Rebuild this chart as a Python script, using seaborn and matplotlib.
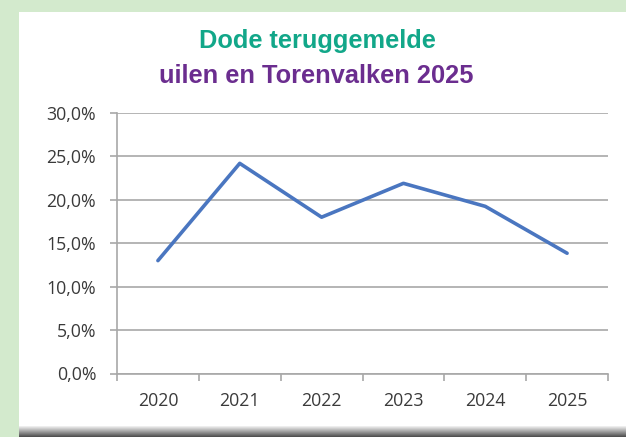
import numpy as np
import pandas as pd
import seaborn as sns
import matplotlib.pyplot as plt
from matplotlib.patches import Rectangle
from matplotlib.ticker import FuncFormatter, FixedLocator

years = ["2020", "2021", "2022", "2023", "2024", "2025"]
percentages = [13.0, 24.2, 18.0, 21.9, 19.25, 13.85]

df = pd.DataFrame({"jaar": years, "pct": percentages})

sns.set_theme(style="white")
plt.rcParams['font.family'] = ['Liberation Sans', 'DejaVu Sans']

W, H = 626, 437
fig = plt.figure(figsize=(W / 100, H / 100), dpi=100)
fig.patch.set_facecolor("#d3eacd")

# white card with shadow at the bottom
bg = fig.add_axes([0, 0, 1, 1], zorder=-10)
bg.axis("off")
bg.add_patch(Rectangle((19, 12), W - 19, 414, facecolor="white", edgecolor="none"))
shade = np.linspace(0.95, 0.30, 30).reshape(-1, 1)
bg.imshow(shade, cmap="gray", vmin=0, vmax=1, extent=(19, W, H, 426), aspect="auto")
bg.set_xlim(0, W)
bg.set_ylim(H, 0)

ax = fig.add_axes([117 / W, 1 - 373.5 / H, (608 - 117) / W, (373.5 - 113) / H])
ax.set_facecolor("none")
sns.lineplot(data=df, x="jaar", y="pct", ax=ax, color="#4a76c0", linewidth=2.6, sort=False)

ax.set_xlim(-0.5, 5.5)
ax.set_ylim(0, 30)
ax.set_yticks(np.arange(0, 31, 5))
ax.yaxis.set_major_formatter(FuncFormatter(lambda v, p: f"{v:.1f}%".replace(".", ",")))
ax.grid(axis="y", color="#a8a8a8", linewidth=1.2)
ax.set_axisbelow(True)

for s in ["top", "right"]:
    ax.spines[s].set_visible(False)
ax.spines["left"].set_color("#a8a8a8")
ax.spines["bottom"].set_color("#a8a8a8")
ax.spines["left"].set_linewidth(1.2)
ax.spines["bottom"].set_linewidth(1.2)

ax.xaxis.set_minor_locator(FixedLocator(np.arange(-0.5, 6, 1)))
ax.tick_params(axis="x", which="major", length=0, pad=13, labelsize=12.8, labelcolor="#3a3a3a")
ax.tick_params(axis="x", which="minor", bottom=True, length=5, color="#a8a8a8", width=1.2)
ax.tick_params(axis="y", left=True, length=5, color="#a8a8a8", width=1.2, pad=10,
               labelsize=12.8, labelcolor="#3a3a3a")
for lab in ax.get_xticklabels() + ax.get_yticklabels():
    lab.set_family(["Open Sans", "DejaVu Sans"])
ax.set_xlabel("")
ax.set_ylabel("")

fig.text(317 / W, 1 - 48 / H, "Dode teruggemelde", ha="center", va="baseline",
         fontsize=18.3, fontweight="bold", color="#12a789")
fig.text(316 / W, 1 - 83 / H, "uilen en Torenvalken 2025", ha="center", va="baseline",
         fontsize=18.3, fontweight="bold", color="#6b2d8f")

fig.savefig("out.png", dpi=100, facecolor=fig.get_facecolor())
